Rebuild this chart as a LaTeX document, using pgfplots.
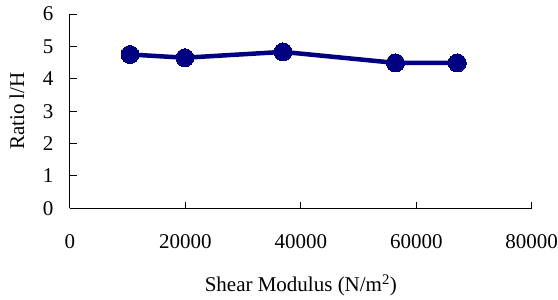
\documentclass[border=0pt]{standalone}
\usepackage{pgfplots}
\pgfplotsset{compat=1.18}
\usepackage{fontspec}
\setmainfont{Liberation Serif}
\definecolor{navy}{RGB}{0,0,128}
\begin{document}
\begin{tikzpicture}
\useasboundingbox (-70pt,-91.7pt) rectangle (488pt,208.3pt);
\begin{axis}[
  at={(0pt,0pt)}, anchor=south west,
  scale only axis, width=461.7pt, height=194.3pt,
  xmin=0, xmax=80000, ymin=0, ymax=6,
  axis x line*=bottom, axis y line*=left,
  xtick={0,20000,...,80000}, ytick={0,1,...,6},
  scaled ticks=false,
  tick align=inside, major tick length=6.7pt,
  axis line style={black, line width=1pt},
  tick style={black, line width=1pt},
  /pgf/number format/1000 sep={},
  /pgf/number format/assume math mode=true,
  tick label style={font=\fontsize{21}{25}\selectfont},
  xticklabel style={yshift=-23pt},
  yticklabel style={xshift=-13pt},
  label style={font=\fontsize{21}{25}\selectfont},
  xlabel={Shear Modulus (N/m\textsuperscript{2})},
  ylabel={Ratio l/H},
  xlabel style={at={(axis description cs:0.5,0)}, anchor=center, yshift=-77pt},
  ylabel style={at={(axis description cs:-0.115,0.5)}, anchor=center},
  clip=false,
]
\addplot[navy, line width=4.5pt, mark=*, mark size=9pt, mark options={fill=navy, draw=navy, line width=0pt}]
coordinates {
(10400,4.75)
(19900,4.65)
(36900,4.83)
(56400,4.49)
(67100,4.49)
};
\end{axis}
\end{tikzpicture}
\end{document}
